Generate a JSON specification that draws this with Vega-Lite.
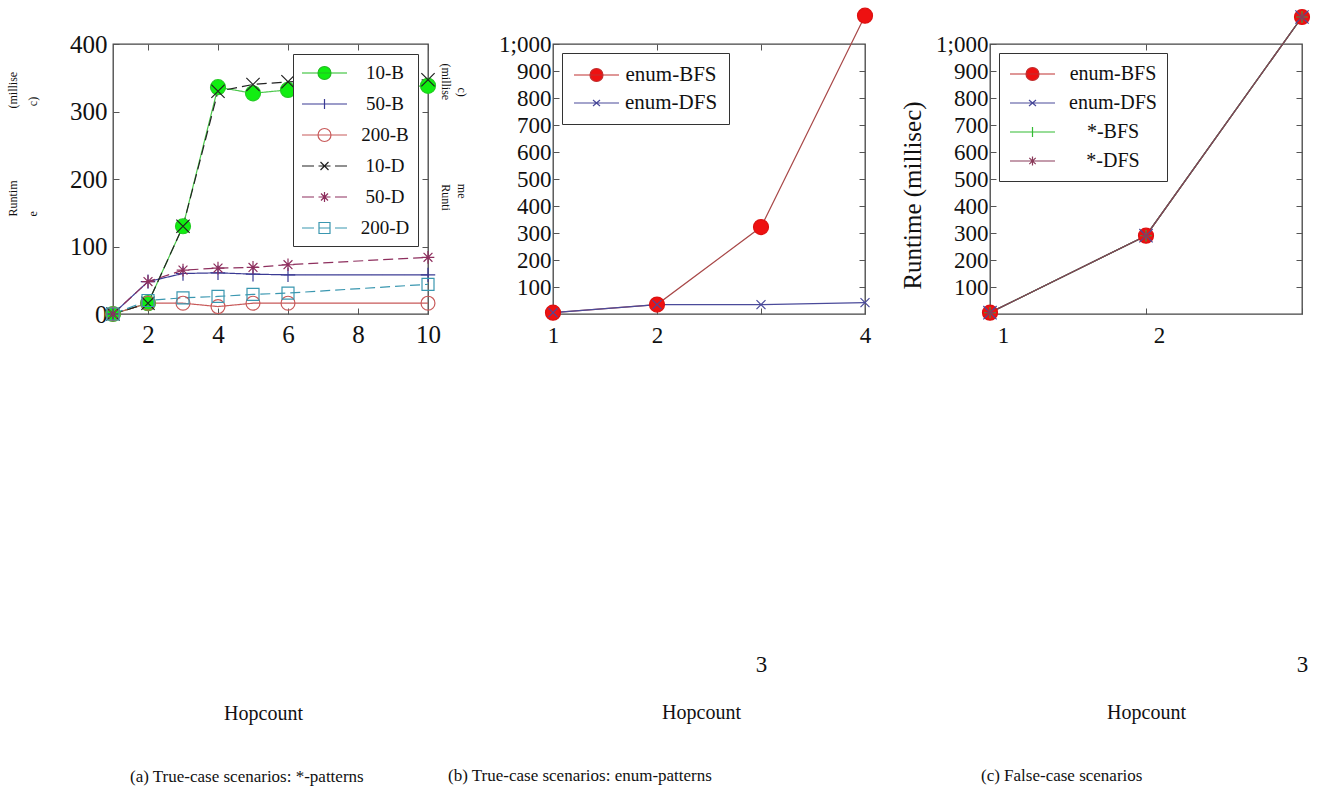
{
 "$schema": "https://vega.github.io/schema/vega-lite/v6.json",
 "background": "white",
 "padding": {"left": 5, "top": 5, "right": 5, "bottom": 5},
 "bounds": "flush",
 "spacing": 125,
 "config": {
  "font": "Liberation Serif",
  "view": {"stroke": "#444", "strokeWidth": 1.3},
  "axis": {"labelFont": "Liberation Serif", "titleFont": "Liberation Serif", "labelColor": "#111", "titleColor": "#111", "titleFontWeight": "normal", "grid": false, "domain": false, "tickColor": "#555", "tickSize": -6, "labelFlush": false, "labelOverlap": false},
  "legend": {"labelFont": "Liberation Serif", "labelColor": "#111"},
  "title": {"font": "Liberation Serif", "fontWeight": "normal", "color": "#111", "fontSize": 17}
 },
 "resolve": {
  "scale": {"color": "independent", "stroke": "independent", "fill": "independent", "shape": "independent", "size": "independent", "strokeDash": "independent"},
  "legend": {"color": "independent", "stroke": "independent", "fill": "independent", "shape": "independent", "size": "independent", "strokeDash": "independent"}
 },
 "datasets": {
  "a": [
   {"series": "10-B", "hop": 1, "ms": 0}, {"series": "10-B", "hop": 2, "ms": 16}, {"series": "10-B", "hop": 3, "ms": 130}, {"series": "10-B", "hop": 4, "ms": 336}, {"series": "10-B", "hop": 5, "ms": 327}, {"series": "10-B", "hop": 6, "ms": 332}, {"series": "10-B", "hop": 10, "ms": 338},
   {"series": "50-B", "hop": 1, "ms": 0}, {"series": "50-B", "hop": 2, "ms": 48}, {"series": "50-B", "hop": 3, "ms": 60}, {"series": "50-B", "hop": 4, "ms": 61}, {"series": "50-B", "hop": 5, "ms": 59}, {"series": "50-B", "hop": 6, "ms": 58}, {"series": "50-B", "hop": 10, "ms": 58},
   {"series": "200-B", "hop": 1, "ms": 0}, {"series": "200-B", "hop": 2, "ms": 16}, {"series": "200-B", "hop": 3, "ms": 16}, {"series": "200-B", "hop": 4, "ms": 11}, {"series": "200-B", "hop": 5, "ms": 16}, {"series": "200-B", "hop": 6, "ms": 16}, {"series": "200-B", "hop": 10, "ms": 16},
   {"series": "10-D", "hop": 1, "ms": 0}, {"series": "10-D", "hop": 2, "ms": 16}, {"series": "10-D", "hop": 3, "ms": 130}, {"series": "10-D", "hop": 4, "ms": 330}, {"series": "10-D", "hop": 5, "ms": 340}, {"series": "10-D", "hop": 6, "ms": 344}, {"series": "10-D", "hop": 10, "ms": 347},
   {"series": "50-D", "hop": 1, "ms": 0}, {"series": "50-D", "hop": 2, "ms": 48}, {"series": "50-D", "hop": 3, "ms": 65}, {"series": "50-D", "hop": 4, "ms": 68}, {"series": "50-D", "hop": 5, "ms": 69}, {"series": "50-D", "hop": 6, "ms": 73}, {"series": "50-D", "hop": 10, "ms": 84},
   {"series": "200-D", "hop": 1, "ms": 0}, {"series": "200-D", "hop": 2, "ms": 20}, {"series": "200-D", "hop": 3, "ms": 24}, {"series": "200-D", "hop": 4, "ms": 26}, {"series": "200-D", "hop": 5, "ms": 29}, {"series": "200-D", "hop": 6, "ms": 31}, {"series": "200-D", "hop": 10, "ms": 44}
  ],
  "b": [
   {"series": "enum-BFS", "hop": 1, "ms": 5}, {"series": "enum-BFS", "hop": 2, "ms": 35}, {"series": "enum-BFS", "hop": 3, "ms": 322}, {"series": "enum-BFS", "hop": 4, "ms": 1105},
   {"series": "enum-DFS", "hop": 1, "ms": 5}, {"series": "enum-DFS", "hop": 2, "ms": 35}, {"series": "enum-DFS", "hop": 3, "ms": 35}, {"series": "enum-DFS", "hop": 4, "ms": 42}
  ],
  "c": [
   {"series": "enum-BFS", "hop": 1, "ms": 5}, {"series": "enum-BFS", "hop": 2, "ms": 290}, {"series": "enum-BFS", "hop": 3, "ms": 1100},
   {"series": "enum-DFS", "hop": 1, "ms": 5}, {"series": "enum-DFS", "hop": 2, "ms": 290}, {"series": "enum-DFS", "hop": 3, "ms": 1100},
   {"series": "*-BFS", "hop": 1, "ms": 5}, {"series": "*-BFS", "hop": 2, "ms": 290}, {"series": "*-BFS", "hop": 3, "ms": 1100},
   {"series": "*-DFS", "hop": 1, "ms": 5}, {"series": "*-DFS", "hop": 2, "ms": 290}, {"series": "*-DFS", "hop": 3, "ms": 1100}
  ]
 },
 "hconcat": [
  {
   "width": 315, "height": 270,
   "data": {"name": "a"},
   "title": {"text": "(a) True-case scenarios: *-patterns", "orient": "bottom", "anchor": "start", "frame": "group", "dx": 17, "offset": 46},
   "resolve": {
    "axis": {"x": "independent", "y": "independent"},
    "scale": {"shape": "independent", "stroke": "independent", "fill": "independent", "size": "independent"},
    "legend": {"shape": "independent", "stroke": "independent", "fill": "independent", "size": "independent"}
   },
   "layer": [
    {
     "mark": {"type": "line", "strokeWidth": 1.2},
     "encoding": {
      "x": {"field": "hop", "type": "quantitative", "scale": {"domain": [1, 10], "nice": false, "zero": false},
            "axis": {"orient": "bottom", "values": [2, 4, 6, 8, 10], "labelFontSize": 25, "labelPadding": 14, "title": "Hopcount", "titleFontSize": 20, "titlePadding": 356, "titleX": 150}},
      "y": {"field": "ms", "type": "quantitative", "scale": {"domain": [0, 400], "nice": false},
            "axis": {"orient": "left", "values": [0, 100, 200, 300, 400], "labelFontSize": 25, "labelPadding": 12,
                     "title": ["Runtim\u00a0\u00a0\u00a0\u00a0\u00a0\u00a0\u00a0\u00a0\u00a0\u00a0\u00a0\u00a0\u00a0\u00a0\u00a0\u00a0\u00a0\u00a0\u00a0\u00a0\u00a0\u00a0\u00a0\u00a0(millise", "e\u00a0\u00a0\u00a0\u00a0\u00a0\u00a0\u00a0\u00a0\u00a0\u00a0\u00a0\u00a0\u00a0\u00a0\u00a0\u00a0\u00a0\u00a0\u00a0\u00a0\u00a0\u00a0\u00a0\u00a0\u00a0\u00a0\u00a0\u00a0\u00a0\u00a0\u00a0\u00a0\u00a0\u00a0\u00a0c)"],
                     "titleFontSize": 12, "titleAlign": "left", "titleAnchor": "start", "titleY": 172, "titlePadding": 30, "titleLineHeight": 20}},
      "color": {"field": "series", "type": "nominal", "legend": null,
                "scale": {"domain": ["200-D", "50-D", "10-D", "200-B", "50-B", "10-B"], "range": ["#3a97b0", "#8e2f5e", "#222222", "#c85a5a", "#3b3b94", "#4cc84c"]}},
      "strokeDash": {"field": "series", "type": "nominal", "legend": null,
                "scale": {"domain": ["200-D", "50-D", "10-D", "200-B", "50-B", "10-B"], "range": [[10, 5], [10, 5], [10, 5], [1, 0], [1, 0], [1, 0]]}}
     }
    },
    {
     "mark": {"type": "point", "opacity": 0},
     "encoding": {
      "x": {"field": "hop", "type": "quantitative", "axis": {"orient": "top", "values": [2, 4, 6, 8, 10], "labels": false, "title": null}},
      "y": {"field": "ms", "type": "quantitative",
            "axis": {"orient": "right", "values": [100, 200, 300], "labels": false,
                     "title": ["\u200b\u00a0\u00a0\u00a0\u00a0\u00a0\u00a0\u00a0\u00a0c)\u00a0\u00a0\u00a0\u00a0\u00a0\u00a0\u00a0\u00a0\u00a0\u00a0\u00a0\u00a0\u00a0\u00a0\u00a0\u00a0\u00a0\u00a0\u00a0\u00a0\u00a0\u00a0\u00a0\u00a0\u00a0\u00a0\u00a0\u00a0\u00a0me", "(millise\u00a0\u00a0\u00a0\u00a0\u00a0\u00a0\u00a0\u00a0\u00a0\u00a0\u00a0\u00a0\u00a0\u00a0\u00a0\u00a0\u00a0\u00a0\u00a0\u00a0\u00a0\u00a0\u00a0\u00a0\u00a0\u00a0\u00a0\u00a0Runti"],
                     "titleFontSize": 12, "titleAngle": 90, "titleAlign": "left", "titleAnchor": "end", "titleY": 19, "titlePadding": 10, "titleLineHeight": 16}}
     }
    },
    {
     "mark": {"type": "point", "opacity": 1, "strokeWidth": 1.2},
     "encoding": {
      "x": {"field": "hop", "type": "quantitative", "axis": null},
      "y": {"field": "ms", "type": "quantitative", "axis": null},
      "shape": {"field": "series", "type": "nominal", "legend": null,
                "scale": {"domain": ["10-B", "50-B", "200-B", "10-D", "50-D", "200-D"], "range": ["circle", "M-1,0H1M0,-1V1", "circle", "M-1,-1L1,1M-1,1L1,-1", "M-1,0H1M0,-1V1M-0.7,-0.7L0.7,0.7M-0.7,0.7L0.7,-0.7", "square"]}},
      "stroke": {"field": "series", "type": "nominal", "legend": null,
                 "scale": {"domain": ["10-B", "50-B", "200-B", "10-D", "50-D", "200-D"], "range": ["#22cc22", "#3b3b94", "#c85a5a", "#222222", "#8e2f5e", "#3a97b0"]}},
      "fill": {"field": "series", "type": "nominal", "legend": null,
               "scale": {"domain": ["10-B", "50-B", "200-B", "10-D", "50-D", "200-D"], "range": ["#11ee11", "transparent", "transparent", "transparent", "transparent", "transparent"]}},
      "size": {"field": "series", "type": "ordinal", "legend": null,
               "scale": {"domain": ["10-B", "50-B", "200-B", "10-D", "50-D", "200-D"], "range": [225, 144, 196, 121, 144, 196]}}
     }
    },
    {
     "mark": {"type": "point", "opacity": 0},
     "encoding": {
      "x": {"field": "hop", "type": "quantitative", "axis": null},
      "y": {"field": "ms", "type": "quantitative", "axis": null},
      "shape": {"field": "series", "type": "nominal",
                "scale": {"domain": ["10-B", "50-B", "200-B", "10-D", "50-D", "200-D"], "range": [
                  "M-1,0H3.5M1.9,0A0.65,0.65,0,1,1,0.6,0A0.65,0.65,0,1,1,1.9,0Z",
                  "M-1,0H3.5M1.25,-0.5V0.5",
                  "M-1,0H3.5M1.9,0A0.65,0.65,0,1,1,0.6,0A0.65,0.65,0,1,1,1.9,0Z",
                  "M-1,0H0.2M0.65,0H1.85M2.3,0H3.5M0.85,-0.4L1.65,0.4M0.85,0.4L1.65,-0.4",
                  "M-1,0H0.2M0.65,0H1.85M2.3,0H3.5M1.25,-0.5V0.5M0.9,-0.35L1.6,0.35M0.9,0.35L1.6,-0.35",
                  "M-1,0H0.2M0.65,0H1.85M2.3,0H3.5M0.7,-0.55H1.8V0.55H0.7Z"]},
                "legend": {"title": null, "orient": "top-right", "offset": 10, "strokeColor": "#333", "fillColor": "white", "padding": 8, "labelFontSize": 19, "labelAlign": "center", "labelOffset": 62, "labelExpr": "datum.label + '\u00a0\u00a0'", "rowPadding": 10, "symbolSize": 400, "symbolOpacity": 1, "symbolStrokeWidth": 1.2}},
      "stroke": {"field": "series", "type": "nominal",
                 "scale": {"domain": ["10-B", "50-B", "200-B", "10-D", "50-D", "200-D"], "range": ["#22bb22", "#3b3b94", "#c85a5a", "#222222", "#8e2f5e", "#3a97b0"]},
                 "legend": {"title": null, "orient": "top-right", "offset": 10, "strokeColor": "#333", "fillColor": "white", "padding": 8, "labelFontSize": 19, "labelAlign": "center", "labelOffset": 62, "labelExpr": "datum.label + '\u00a0\u00a0'", "rowPadding": 10, "symbolSize": 400, "symbolOpacity": 1, "symbolStrokeWidth": 1.2}},
      "fill": {"field": "series", "type": "nominal",
               "scale": {"domain": ["10-B", "50-B", "200-B", "10-D", "50-D", "200-D"], "range": ["#11ee11", "transparent", "transparent", "transparent", "transparent", "transparent"]},
               "legend": {"title": null, "orient": "top-right", "offset": 10, "strokeColor": "#333", "fillColor": "white", "padding": 8, "labelFontSize": 19, "labelAlign": "center", "labelOffset": 62, "labelExpr": "datum.label + '\u00a0\u00a0'", "rowPadding": 10, "symbolSize": 400, "symbolOpacity": 1, "symbolStrokeWidth": 1.2}}
     }
    }
   ]
  },
  {
   "width": 312, "height": 270,
   "data": {"name": "b"},
   "title": {"text": "(b) True-case scenarios: enum-patterns", "orient": "bottom", "anchor": "start", "frame": "group", "dx": -105, "offset": 46},
   "resolve": {
    "axis": {"x": "independent", "y": "independent"},
    "scale": {"shape": "independent", "stroke": "independent", "fill": "independent", "size": "independent"},
    "legend": {"shape": "independent", "stroke": "independent", "fill": "independent", "size": "independent"}
   },
   "layer": [
    {
     "mark": {"type": "line", "strokeWidth": 1.2},
     "encoding": {
      "x": {"field": "hop", "type": "quantitative", "scale": {"domain": [1, 4], "nice": false, "zero": false},
            "axis": {"orient": "bottom", "values": [1, 2, 4], "format": "d", "labelFontSize": 23, "labelPadding": 16, "title": null}},
      "y": {"field": "ms", "type": "quantitative", "scale": {"domain": [0, 1000], "nice": false},
            "axis": {"orient": "left", "values": [100, 200, 300, 400, 500, 600, 700, 800, 900, 1000], "labelFontSize": 23, "labelPadding": 8, "title": null,
                     "labelExpr": "datum.value === 1000 ? '1;000' : datum.label"}},
      "color": {"field": "series", "type": "nominal", "legend": null,
                "scale": {"domain": ["enum-DFS", "enum-BFS"], "range": ["#4a4a9a", "#a84848"]}}
     }
    },
    {
     "mark": {"type": "point", "opacity": 0},
     "encoding": {
      "x": {"field": "hop", "type": "quantitative", "axis": {"orient": "top", "values": [2, 3], "labels": false, "title": null}},
      "y": {"field": "ms", "type": "quantitative", "axis": {"orient": "right", "values": [100, 200, 300, 400, 500, 600, 700, 800, 900], "labels": false, "title": null}}
     }
    },
    {
     "mark": {"type": "point", "opacity": 0},
     "encoding": {
      "x": {"field": "hop", "type": "quantitative", "axis": {"orient": "bottom", "values": [3], "format": "d", "labelFontSize": 23, "labelPadding": 345, "maxExtent": 400, "title": "Hopcount", "titleFontSize": 20, "titlePadding": 26, "titleX": 148}},
      "y": {"field": "ms", "type": "quantitative", "axis": null}
     }
    },
    {
     "mark": {"type": "point", "opacity": 1, "strokeWidth": 1.2},
     "encoding": {
      "x": {"field": "hop", "type": "quantitative", "axis": null},
      "y": {"field": "ms", "type": "quantitative", "axis": null},
      "shape": {"field": "series", "type": "nominal", "legend": null,
                "scale": {"domain": ["enum-BFS", "enum-DFS"], "range": ["circle", "M-1,-1L1,1M-1,1L1,-1"]}},
      "stroke": {"field": "series", "type": "nominal", "legend": null,
                 "scale": {"domain": ["enum-BFS", "enum-DFS"], "range": ["#dd1111", "#4a4a9a"]}},
      "fill": {"field": "series", "type": "nominal", "legend": null,
               "scale": {"domain": ["enum-BFS", "enum-DFS"], "range": ["#ee1111", "transparent"]}},
      "size": {"field": "series", "type": "ordinal", "legend": null,
               "scale": {"domain": ["enum-BFS", "enum-DFS"], "range": [225, 81]}}
     }
    },
    {
     "mark": {"type": "point", "opacity": 0},
     "encoding": {
      "x": {"field": "hop", "type": "quantitative", "axis": null},
      "y": {"field": "ms", "type": "quantitative", "axis": null},
      "shape": {"field": "series", "type": "nominal",
                "scale": {"domain": ["enum-BFS", "enum-DFS"], "range": [
                  "M-1,0H3.5M1.9,0A0.65,0.65,0,1,1,0.6,0A0.65,0.65,0,1,1,1.9,0Z",
                  "M-1,0H3.5M0.9,-0.3L1.6,0.3M0.9,0.3L1.6,-0.3"]},
                "legend": {"title": null, "orient": "top-left", "offset": 9, "strokeColor": "#333", "fillColor": "white", "padding": 11, "labelFontSize": 21, "labelAlign": "center", "labelOffset": 76, "labelExpr": "datum.label + '\u00a0'", "rowPadding": 7, "symbolSize": 400, "symbolOpacity": 1, "symbolStrokeWidth": 1.2}},
      "stroke": {"field": "series", "type": "nominal",
                 "scale": {"domain": ["enum-BFS", "enum-DFS"], "range": ["#c03030", "#4a4a9a"]},
                 "legend": {"title": null, "orient": "top-left", "offset": 9, "strokeColor": "#333", "fillColor": "white", "padding": 11, "labelFontSize": 21, "labelAlign": "center", "labelOffset": 76, "labelExpr": "datum.label + '\u00a0'", "rowPadding": 7, "symbolSize": 400, "symbolOpacity": 1, "symbolStrokeWidth": 1.2}},
      "fill": {"field": "series", "type": "nominal",
               "scale": {"domain": ["enum-BFS", "enum-DFS"], "range": ["#ee1111", "transparent"]},
               "legend": {"title": null, "orient": "top-left", "offset": 9, "strokeColor": "#333", "fillColor": "white", "padding": 11, "labelFontSize": 21, "labelAlign": "center", "labelOffset": 76, "labelExpr": "datum.label + '\u00a0'", "rowPadding": 7, "symbolSize": 400, "symbolOpacity": 1, "symbolStrokeWidth": 1.2}}
     }
    }
   ]
  },
  {
   "width": 312, "height": 270,
   "data": {"name": "c"},
   "title": {"text": "(c) False-case scenarios", "orient": "bottom", "anchor": "start", "frame": "group", "dx": -9, "offset": 46},
   "resolve": {
    "axis": {"x": "independent", "y": "independent"},
    "scale": {"shape": "independent", "stroke": "independent", "fill": "independent", "size": "independent"},
    "legend": {"shape": "independent", "stroke": "independent", "fill": "independent", "size": "independent"}
   },
   "layer": [
    {
     "mark": {"type": "line", "strokeWidth": 1.2},
     "encoding": {
      "x": {"field": "hop", "type": "quantitative", "scale": {"domain": [1, 3], "nice": false, "zero": false},
            "axis": {"orient": "bottom", "values": [1, 2], "format": "d", "labelFontSize": 23, "labelPadding": 16, "labelOffset": 13, "title": null}},
      "y": {"field": "ms", "type": "quantitative", "scale": {"domain": [0, 1000], "nice": false},
            "axis": {"orient": "left", "values": [100, 200, 300, 400, 500, 600, 700, 800, 900, 1000], "labelFontSize": 23, "labelPadding": 8,
                     "labelExpr": "datum.value === 1000 ? '1;000' : datum.label",
                     "title": "Runtime (millisec)", "titleFontSize": 25, "titlePadding": 10, "titleY": 151}},
      "color": {"field": "series", "type": "nominal", "legend": null,
                "scale": {"domain": ["*-DFS", "*-BFS", "enum-DFS", "enum-BFS"], "range": ["#8a3a5a", "#33bb33", "#4a4a9a", "#a84848"]}}
     }
    },
    {
     "mark": {"type": "point", "opacity": 0},
     "encoding": {
      "x": {"field": "hop", "type": "quantitative", "axis": {"orient": "top", "values": [2], "labels": false, "title": null}},
      "y": {"field": "ms", "type": "quantitative", "axis": {"orient": "right", "values": [100, 200, 300, 400, 500, 600, 700, 800, 900], "labels": false, "title": null}}
     }
    },
    {
     "mark": {"type": "point", "opacity": 0},
     "encoding": {
      "x": {"field": "hop", "type": "quantitative", "axis": {"orient": "bottom", "values": [3], "format": "d", "labelFontSize": 23, "labelPadding": 345, "maxExtent": 400, "title": "Hopcount", "titleFontSize": 20, "titlePadding": 26, "titleX": 156}},
      "y": {"field": "ms", "type": "quantitative", "axis": null}
     }
    },
    {
     "mark": {"type": "point", "opacity": 1, "strokeWidth": 1.2},
     "encoding": {
      "x": {"field": "hop", "type": "quantitative", "axis": null},
      "y": {"field": "ms", "type": "quantitative", "axis": null},
      "shape": {"field": "series", "type": "nominal", "legend": null,
                "scale": {"domain": ["enum-BFS", "enum-DFS", "*-BFS", "*-DFS"], "range": ["circle", "M-1,-1L1,1M-1,1L1,-1", "M-1,0H1M0,-1V1", "M-1,0H1M0,-1V1M-0.7,-0.7L0.7,0.7M-0.7,0.7L0.7,-0.7"]}},
      "stroke": {"field": "series", "type": "nominal", "legend": null,
                 "scale": {"domain": ["enum-BFS", "enum-DFS", "*-BFS", "*-DFS"], "range": ["#dd1111", "#4a4a9a", "#33bb33", "#8a3a5a"]}},
      "fill": {"field": "series", "type": "nominal", "legend": null,
               "scale": {"domain": ["enum-BFS", "enum-DFS", "*-BFS", "*-DFS"], "range": ["#ee1111", "transparent", "transparent", "transparent"]}},
      "size": {"field": "series", "type": "ordinal", "legend": null,
               "scale": {"domain": ["enum-BFS", "enum-DFS", "*-BFS", "*-DFS"], "range": [225, 81, 100, 100]}}
     }
    },
    {
     "mark": {"type": "point", "opacity": 0},
     "encoding": {
      "x": {"field": "hop", "type": "quantitative", "axis": null},
      "y": {"field": "ms", "type": "quantitative", "axis": null},
      "shape": {"field": "series", "type": "nominal",
                "scale": {"domain": ["enum-BFS", "enum-DFS", "*-BFS", "*-DFS"], "range": [
                  "M-1,0H3.5M1.9,0A0.65,0.65,0,1,1,0.6,0A0.65,0.65,0,1,1,1.9,0Z",
                  "M-1,0H3.5M0.9,-0.3L1.6,0.3M0.9,0.3L1.6,-0.3",
                  "M-1,0H3.5M1.25,-0.5V0.5",
                  "M-1,0H3.5M1.25,-0.45V0.45M0.93,-0.32L1.57,0.32M0.93,0.32L1.57,-0.32"]},
                "legend": {"title": null, "orient": "top-left", "offset": 9, "strokeColor": "#333", "fillColor": "white", "padding": 10, "labelFontSize": 20, "labelAlign": "center", "labelOffset": 82, "labelExpr": "datum.label + '\u00a0\u00a0'", "rowPadding": 8, "symbolSize": 400, "symbolOpacity": 1, "symbolStrokeWidth": 1.2}},
      "stroke": {"field": "series", "type": "nominal",
                 "scale": {"domain": ["enum-BFS", "enum-DFS", "*-BFS", "*-DFS"], "range": ["#c03030", "#4a4a9a", "#33bb33", "#8a3a5a"]},
                 "legend": {"title": null, "orient": "top-left", "offset": 9, "strokeColor": "#333", "fillColor": "white", "padding": 10, "labelFontSize": 20, "labelAlign": "center", "labelOffset": 82, "labelExpr": "datum.label + '\u00a0\u00a0'", "rowPadding": 8, "symbolSize": 400, "symbolOpacity": 1, "symbolStrokeWidth": 1.2}},
      "fill": {"field": "series", "type": "nominal",
               "scale": {"domain": ["enum-BFS", "enum-DFS", "*-BFS", "*-DFS"], "range": ["#ee1111", "transparent", "transparent", "transparent"]},
               "legend": {"title": null, "orient": "top-left", "offset": 9, "strokeColor": "#333", "fillColor": "white", "padding": 10, "labelFontSize": 20, "labelAlign": "center", "labelOffset": 82, "labelExpr": "datum.label + '\u00a0\u00a0'", "rowPadding": 8, "symbolSize": 400, "symbolOpacity": 1, "symbolStrokeWidth": 1.2}}
     }
    }
   ]
  }
 ]
}
